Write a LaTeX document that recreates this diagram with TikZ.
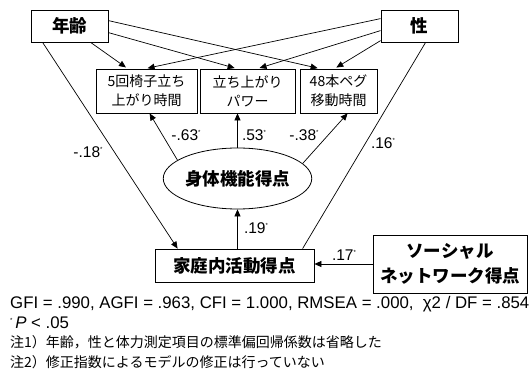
\documentclass[tikz,border=0pt]{standalone}
\usepackage{fontspec}
\setmainfont{Liberation Sans}
\newfontfamily\jp{Noto Sans CJK JP}
\usetikzlibrary{arrows.meta,shapes.geometric}
\tikzset{
  box/.style={draw,line width=0.8pt,inner sep=0pt,align=center},
  bigbox/.style={box,font=\jp\bfseries\fontsize{17.5}{25}\selectfont},
  smallbox/.style={box,font=\jp\fontsize{14}{19}\selectfont},
  arr/.style={line width=0.7pt,-{Triangle[length=7pt,width=6pt]},shorten >=2pt},
  ln/.style={line width=0.7pt},
  coef/.style={inner sep=0pt,font=\fontsize{15.5}{17}\selectfont},
  note/.style={inner sep=0pt,anchor=west,font=\fontsize{16.8}{18}\selectfont},
  jnote/.style={inner sep=0pt,anchor=west,font=\jp\fontsize{14}{16}\selectfont}
}
\newcommand{\sig}{\raisebox{6pt}{\fontsize{6}{6}\selectfont *}}
\begin{document}
\begin{tikzpicture}[x=1pt,y=-1pt]
\useasboundingbox (0,0) rectangle (532,371);
\node[bigbox,minimum width=77pt,minimum height=32pt] (age) at (69.5,26) {年齢};
\node[bigbox,minimum width=77pt,minimum height=32pt] (sex) at (419.5,26) {性};
\node[smallbox,minimum width=101pt,minimum height=44pt] (b1) at (146.5,91) {5回椅子立ち\\上がり時間};
\node[smallbox,minimum width=95pt,minimum height=44pt] (b2) at (247.5,91) {立ち上がり\\パワー};
\node[smallbox,minimum width=77pt,minimum height=44pt] (b3) at (338.5,91) {48本ペグ\\移動時間};
\node[draw,ellipse,line width=0.8pt,inner sep=0pt,minimum width=143pt,minimum height=61pt,font=\jp\bfseries\fontsize{17.5}{20}\selectfont] (phys) at (237.5,178.5) {身体機能得点};
\node[bigbox,minimum width=159pt,minimum height=33pt] (home) at (234.5,265.5) {家庭内活動得点};
\node[bigbox,minimum width=154pt,minimum height=58pt] (soc) at (450,264) {ソーシャル\\ネットワーク得点};

% age and sex to the three tests
\draw[arr] ([xshift=60pt]age.south west) -- ([xshift=32pt]b1.north west);
\draw[arr] ([yshift=-23pt]age.north east) -- ([xshift=37pt]b2.north west);
\draw[arr] ([yshift=-11pt]age.north east) -- ([xshift=20pt]b3.north west);
\draw[arr] ([yshift=-9pt]sex.north west) -- ([xshift=50pt]b1.north west);
\draw[arr] ([yshift=-21pt]sex.north west) -- ([xshift=58pt]b2.north west);
\draw[arr] ([yshift=-31pt]sex.north west) -- ([xshift=35pt]b3.north west);

% factor loadings
\draw[arr,shorten >=0pt] (phys.163) -- ([xshift=54pt]b1.south west);
\draw[arr,shorten >=0pt] (phys.north) -- (phys.north |- b2.south);
\draw[arr,shorten >=0pt] (phys.13) -- ([xshift=48pt]b3.south west);

% paths to home activity
\draw[arr,shorten >=0pt] ([xshift=12pt]age.south west) -- ([xshift=23pt]home.north west);
\draw[ln] ([xshift=45pt]sex.south west) -- ([xshift=148pt]home.north west);
\draw[arr,shorten >=0pt] (phys.south |- home.north) -- (phys.south);
\draw[arr,shorten >=0pt] (soc.west) -- (soc.west -| home.east);

% coefficients
\node[coef] (c18) at (88,152) {-.18\sig};
\node[coef] (c63) at (186,135) {-.63\sig};
\node[coef] (c53) at (254,135) {.53\sig};
\node[coef] (c38) at (304,135) {-.38\sig};
\node[coef] (c16) at (383,143) {.16\sig};
\node[coef] (c19) at (256,228) {.19\sig};
\node[coef] (c17) at (344,255) {.17\sig};

% notes
\node[note] (fit) at (10,304) {GFI = .990, AGFI = .963, CFI = 1.000, RMSEA = .000, \ χ2 / DF = .854};
\node[note] (p) at (10,323) {\sig\,\textit{P} < .05};
\node[jnote] (n1) at (10,342) {注1）年齢，性と体力測定項目の標準偏回帰係数は省略した};
\node[jnote] (n2) at (10,362) {注2）修正指数によるモデルの修正は行っていない};
\end{tikzpicture}
\end{document}
